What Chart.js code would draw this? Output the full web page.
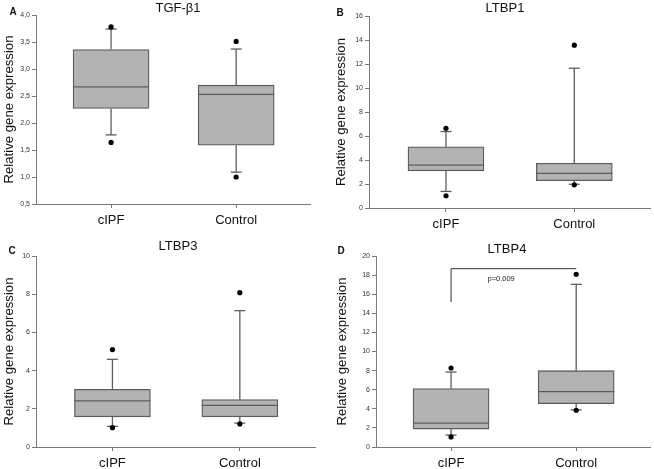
<!DOCTYPE html>
<html>
<head>
<meta charset="utf-8">
<script src="https://cdn.jsdelivr.net/npm/chart.js@4.4.1/dist/chart.umd.min.js"></script>
<style>
  body { margin: 0; background: #fff; font-family: "Liberation Sans", Arial, sans-serif; }
  #wrap { position: relative; width: 654px; height: 469px; overflow: hidden; }
  .panel { position: absolute; }
  .lbl { position: absolute; transform: translate(-50%, -50%); white-space: nowrap; color: #111; }
  .letter { font-weight: bold; font-size: 10px; }
  .ttl { font-size: 13px; }
</style>
</head>
<body>
<div id="wrap">
  <div class="panel" style="left:0;top:0"><canvas id="chartA" width="327" height="235"></canvas></div>
  <div class="panel" style="left:327px;top:0"><canvas id="chartB" width="327" height="235"></canvas></div>
  <div class="panel" style="left:0;top:235px"><canvas id="chartC" width="327" height="234"></canvas></div>
  <div class="panel" style="left:327px;top:235px"><canvas id="chartD" width="327" height="234"></canvas></div>

  <div class="lbl letter" style="left:13px;top:11px">A</div>
  <div class="lbl letter" style="left:340px;top:12px">B</div>
  <div class="lbl letter" style="left:12px;top:250px">C</div>
  <div class="lbl letter" style="left:341px;top:250px">D</div>

  <div class="lbl ttl" style="left:178px;top:7px">TGF-β1</div>
  <div class="lbl ttl" style="left:505px;top:7px">LTBP1</div>
  <div class="lbl ttl" style="left:178px;top:245px">LTBP3</div>
  <div class="lbl ttl" style="left:507px;top:248px">LTBP4</div>
</div>

<script>
const groups = ['cIPF', 'Control'];

// A - TGF-b1
const tgfTicks = [0.5, 1.0, 1.5, 2.0, 2.5, 3.0, 3.5, 4.0];
const tgfLow = [1.78, 1.09];
const tgfQ1 = [2.27, 1.59];
const tgfMedian = [2.67, 2.53];
const tgfQ3 = [3.36, 2.70];
const tgfHigh = [3.74, 3.37];
const tgfOutHigh = [3.78, 3.51];
const tgfOutLow = [1.64, 1.00];

// B - LTBP1
const ltbp1Ticks = [0, 2, 4, 6, 8, 10, 12, 14, 16];
const ltbp1Low = [1.38, 1.98];
const ltbp1Q1 = [3.1, 2.28];
const ltbp1Median = [3.57, 2.88];
const ltbp1Q3 = [5.1, 3.73];
const ltbp1High = [6.37, 11.65];
const ltbp1OutHigh = [6.64, 13.57];
const ltbp1OutLow = [1.02, 1.93];

// C - LTBP3
const ltbp3Ticks = [0, 2, 4, 6, 8, 10];
const ltbp3Low = [1.08, 1.25];
const ltbp3Q1 = [1.58, 1.58];
const ltbp3Median = [2.41, 2.18];
const ltbp3Q3 = [3.02, 2.48];
const ltbp3High = [4.59, 7.14];
const ltbp3OutHigh = [5.1, 8.08];
const ltbp3OutLow = [1.01, 1.21];

// D - LTBP4
const ltbp4Ticks = [0, 2, 4, 6, 8, 10, 12, 14, 16, 18, 20];
const ltbp4Low = [1.25, 3.9];
const ltbp4Q1 = [1.88, 4.54];
const ltbp4Median = [2.51, 5.79];
const ltbp4Q3 = [6.11, 7.99];
const ltbp4High = [7.85, 17.03];
const ltbp4OutHigh = [8.27, 18.08];
const ltbp4OutLow = [1.05, 3.85];
const ltbp4Bracket = [15.18, 18.67]; // left foot, top line
const ltbp4PValue = 'p=0.009';

const fontFamily = '"Liberation Sans", Arial, sans-serif';
const axisColor = '#7a7a7a';

function makePanel(id, s) {
    const canvas = document.getElementById(id);
    const W = canvas.width, H = canvas.height;

    const outliers = [];
    for (let i = 0; i < groups.length; i++) {
        outliers.push({ x: i + 1, y: s.outHigh[i] });
        outliers.push({ x: i + 1, y: s.outLow[i] });
    }

    const boxParts = {
        id: 'boxParts',
        afterDatasetDraw(chart, args) {
            if (args.index !== 1) return;
            const xs = chart.scales.x, ys = chart.scales.y, ctx = chart.ctx;
            const bars = chart.getDatasetMeta(1).data;
            ctx.save();
            ctx.strokeStyle = '#5c5c5c';
            ctx.lineWidth = 1.3;
            function seg(x1, y1, x2, y2) {
                ctx.beginPath();
                ctx.moveTo(x1, y1);
                ctx.lineTo(x2, y2);
                ctx.stroke();
            }
            for (let i = 0; i < groups.length; i++) {
                const px = xs.getPixelForValue(i + 1);
                const half = bars[i].width / 2;
                const cap = 5.5;
                seg(px - half, ys.getPixelForValue(s.median[i]), px + half, ys.getPixelForValue(s.median[i]));
                seg(px, ys.getPixelForValue(s.q3[i]), px, ys.getPixelForValue(s.high[i]));
                seg(px - cap, ys.getPixelForValue(s.high[i]), px + cap, ys.getPixelForValue(s.high[i]));
                seg(px, ys.getPixelForValue(s.q1[i]), px, ys.getPixelForValue(s.low[i]));
                seg(px - cap, ys.getPixelForValue(s.low[i]), px + cap, ys.getPixelForValue(s.low[i]));
            }
            if (s.bracket) {
                const x1 = xs.getPixelForValue(1), x2 = xs.getPixelForValue(2);
                const yb = ys.getPixelForValue(s.bracket[0]), yt = ys.getPixelForValue(s.bracket[1]);
                ctx.strokeStyle = '#333';
                ctx.lineWidth = 1;
                ctx.beginPath();
                ctx.moveTo(x1, yb);
                ctx.lineTo(x1, yt);
                ctx.lineTo(x2, yt);
                ctx.stroke();
                ctx.fillStyle = '#222';
                ctx.font = '7.5px ' + fontFamily;
                ctx.textAlign = 'center';
                ctx.textBaseline = 'middle';
                ctx.fillText(s.pText, xs.getPixelForValue(1.4), ys.getPixelForValue(17.56));
            }
            ctx.restore();
        }
    };

    return new Chart(canvas, {
        type: 'bar',
        data: {
            datasets: [
                {
                    type: 'scatter',
                    data: outliers,
                    pointRadius: 2.6,
                    pointBackgroundColor: '#000',
                    pointBorderWidth: 0
                },
                {
                    type: 'bar',
                    data: groups.map((g, i) => ({ x: i + 1, y: [s.q1[i], s.q3[i]] })),
                    backgroundColor: '#b3b3b3',
                    borderColor: '#5c5c5c',
                    borderWidth: 1.3,
                    borderSkipped: false,
                    barThickness: 76
                }
            ]
        },
        options: {
            responsive: false,
            animation: false,
            events: [],
            layout: {
                padding: { left: 0, top: s.plot.top, right: W - s.plot.right, bottom: 0 }
            },
            plugins: {
                legend: { display: false },
                tooltip: { enabled: false }
            },
            scales: {
                x: {
                    type: 'linear',
                    min: 0.4,
                    max: 2.59,
                    offset: false,
                    afterBuildTicks: sc => { sc.ticks = groups.map((g, i) => ({ value: i + 1 })); },
                    afterFit: sc => { sc.height = H - s.plot.bottom; },
                    grid: { display: true, drawOnChartArea: false, tickLength: 4, color: axisColor, offset: false },
                    border: { display: true, color: axisColor, width: 1 },
                    ticks: {
                        callback: v => groups[v - 1],
                        font: { family: fontFamily, size: 13 },
                        color: '#111',
                        padding: 5,
                        maxRotation: 0
                    }
                },
                y: {
                    min: s.ticks[0],
                    max: s.ticks[s.ticks.length - 1],
                    afterBuildTicks: sc => { sc.ticks = s.ticks.map(v => ({ value: v })); },
                    afterFit: sc => { sc.width = s.plot.left; },
                    grid: { display: true, drawOnChartArea: false, tickLength: 4, color: axisColor },
                    border: { display: true, color: axisColor, width: 1 },
                    ticks: {
                        callback: s.fmt,
                        font: { family: fontFamily, size: 7 },
                        color: '#333',
                        padding: 2
                    },
                    title: {
                        display: true,
                        text: 'Relative gene expression',
                        font: { family: fontFamily, size: 13.2 },
                        color: '#111',
                        padding: { top: s.titlePad, bottom: 0 }
                    }
                }
            }
        },
        plugins: [boxParts]
    });
}

const commaFmt = v => v.toFixed(1).replace('.', ',');
const intFmt = v => String(v);

makePanel('chartA', {
    ticks: tgfTicks, fmt: commaFmt,
    low: tgfLow, q1: tgfQ1, median: tgfMedian, q3: tgfQ3, high: tgfHigh,
    outHigh: tgfOutHigh, outLow: tgfOutLow,
    plot: { left: 36, top: 15, right: 310, bottom: 204 }, titlePad: 1.5
});
makePanel('chartB', {
    ticks: ltbp1Ticks, fmt: intFmt,
    low: ltbp1Low, q1: ltbp1Q1, median: ltbp1Median, q3: ltbp1Q3, high: ltbp1High,
    outHigh: ltbp1OutHigh, outLow: ltbp1OutLow,
    plot: { left: 42, top: 16, right: 326, bottom: 208 }, titlePad: 6
});
makePanel('chartC', {
    ticks: ltbp3Ticks, fmt: intFmt,
    low: ltbp3Low, q1: ltbp3Q1, median: ltbp3Median, q3: ltbp3Q3, high: ltbp3High,
    outHigh: ltbp3OutHigh, outLow: ltbp3OutLow,
    plot: { left: 36, top: 21, right: 315, bottom: 212 }, titlePad: 1.5
});
makePanel('chartD', {
    ticks: ltbp4Ticks, fmt: intFmt,
    low: ltbp4Low, q1: ltbp4Q1, median: ltbp4Median, q3: ltbp4Q3, high: ltbp4High,
    outHigh: ltbp4OutHigh, outLow: ltbp4OutLow,
    bracket: ltbp4Bracket, pText: ltbp4PValue,
    plot: { left: 49, top: 21, right: 327, bottom: 212 }, titlePad: 7
});
</script>
</body>
</html>
